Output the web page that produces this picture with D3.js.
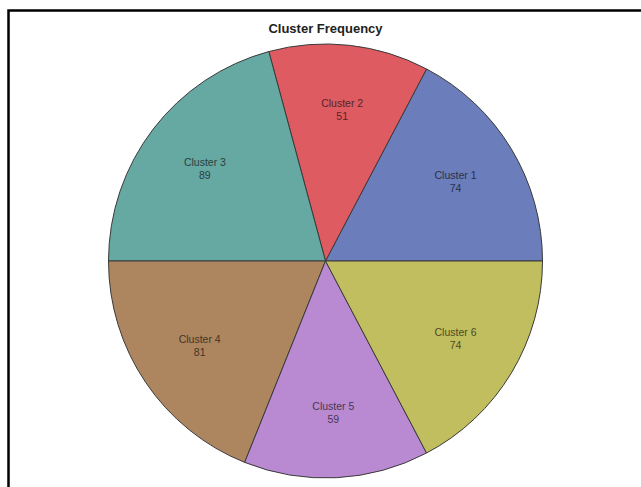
<!DOCTYPE html>
<html>
<head>
<meta charset="utf-8">
<script src="https://cdn.jsdelivr.net/npm/d3@7"></script>
<style>
  body { margin: 0; background: #fff; }
  svg { display: block; }
</style>
</head>
<body>
<div id="chart"></div>
<script>
// data
var clusters = ["Cluster 1", "Cluster 2", "Cluster 3", "Cluster 4", "Cluster 5", "Cluster 6"];
var counts = [74, 51, 89, 81, 59, 74];
var colors = ["#6b7dba", "#de5b61", "#66a8a2", "#ad8660", "#b98ad2", "#c0be5e"];

var svgWidth = 641;
var svgHeight = 487;
var cx = 325.5, cy = 261, radius = 217;

var svg = d3.select("#chart")
  .append("svg")
  .attr("width", svgWidth)
  .attr("height", svgHeight);

// frame (runs off the right and bottom edge)
svg.append("path")
  .attr("d", "M8.5," + svgHeight + " V10.5 H" + svgWidth)
  .attr("fill", "none")
  .attr("stroke", "#000")
  .attr("stroke-width", 2.5);

svg.append("text")
  .attr("x", cx)
  .attr("y", 33)
  .attr("text-anchor", "middle")
  .attr("font-family", "Liberation Sans, Arial, sans-serif")
  .attr("font-weight", "bold")
  .attr("font-size", 13)
  .attr("fill", "#222")
  .text("Cluster Frequency");

var table = clusters.map((c, i) => ({ name: c, value: counts[i], color: colors[i] }));

// slices go counter-clockwise, starting at 3 o'clock
var pie = d3.pie()
  .sort(null)
  .value(d => d.value)
  .startAngle(Math.PI / 2)
  .endAngle(Math.PI / 2 - 2 * Math.PI);

var arc = d3.arc().innerRadius(0).outerRadius(radius);
var labelArc = d3.arc().innerRadius(radius * 0.7).outerRadius(radius * 0.7);

var g = svg.append("g")
  .attr("transform", `translate(${cx}, ${cy})`);

var slices = g.selectAll("g.slice")
  .data(pie(table))
  .enter()
  .append("g")
  .attr("class", "slice");

slices.append("path")
  .attr("d", arc)
  .attr("fill", d => d.data.color)
  .attr("stroke", "#3a3a3a")
  .attr("stroke-width", 1);

var labels = slices.append("text")
  .attr("transform", d => `translate(${labelArc.centroid(d)})`)
  .attr("text-anchor", "middle")
  .attr("font-family", "Liberation Sans, Arial, sans-serif")
  .attr("font-size", 10.5)
  .attr("fill", d => d3.color(d.data.color).darker(2.6));

labels.append("tspan")
  .attr("x", 0)
  .attr("dy", "-0.3em")
  .text(d => d.data.name);

labels.append("tspan")
  .attr("x", 0)
  .attr("dy", "1.25em")
  .text(d => d.data.value);
</script>
</body>
</html>
